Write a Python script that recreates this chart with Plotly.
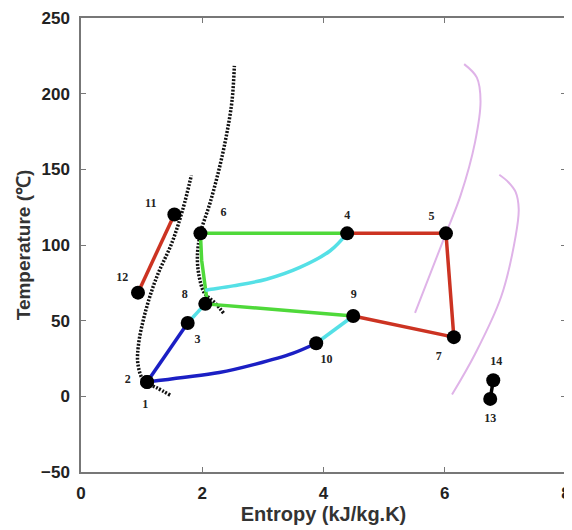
import plotly.graph_objects as go

# state points (entropy kJ/kg.K, temperature °C)
pt_labels = ["1", "2", "3", "4", "5", "6", "7", "8", "9", "10", "11", "12", "13", "14"]
pt_s = [1.09, 1.09, 1.76, 4.39, 6.02, 1.97, 6.15, 2.05, 4.49, 3.88, 1.54, 0.94, 6.75, 6.80]
pt_t = [9.5, 9.5, 48.5, 107.7, 107.7, 107.7, 39.1, 61.1, 53.1, 35.1, 120.2, 68.5, -1.7, 10.6]

# label anchor positions
lab_s = [1.06, 0.77, 1.92, 4.39, 5.78, 2.35, 5.90, 1.71, 4.50, 4.05, 1.15, 0.68, 6.75, 6.85]
lab_t = [-5.5, 11.0, 36.9, 119.0, 118.6, 121.0, 26.2, 67.0, 67.0, 24.0, 127.0, 78.0, -15.0, 22.8]

# saturation curves (dotted black)
satA_s = [1.47, 1.25, 1.04, 0.94, 0.95, 1.07, 1.25, 1.50, 1.68, 1.82]
satA_t = [0.8, 5.7, 10.0, 21.0, 34.6, 57.0, 79.0, 101.5, 123.7, 146.0]
satB_s = [2.35, 2.22, 2.04, 1.95, 1.92, 1.97, 2.13, 2.28, 2.40, 2.49, 2.53]
satB_t = [55.0, 61.4, 68.0, 79.0, 92.5, 107.7, 128.0, 150.5, 172.7, 195.0, 218.4]

# pink curves
p1_s = [5.51, 6.02, 6.26, 6.50, 6.59, 6.53, 6.32]
p1_t = [55.1, 107.7, 132.6, 168.0, 195.0, 210.6, 219.5]
p2_s = [6.12, 6.50, 6.93, 7.17, 7.22, 7.17, 7.05, 6.90]
p2_t = [1.2, 28.0, 65.8, 106.0, 123.7, 134.9, 141.5, 146.4]

# process lines
green_s = [[1.97, 4.39], [1.97, 1.99, 2.07, 2.05], [2.05, 4.49]]
green_t = [[107.7, 107.7], [107.7, 90.0, 66.0, 61.1], [61.1, 53.1]]
cyan_s = [[4.39, 4.11, 3.61, 3.06, 2.51, 2.10, 2.05], [1.76, 2.05], [3.88, 4.49]]
cyan_t = [[107.7, 96.2, 85.2, 77.4, 73.0, 70.4, 70.0], [48.5, 61.1], [35.1, 53.1]]
blue_s = [[1.09, 1.76], [1.09, 1.68, 2.28, 2.88, 3.49, 3.88]]
blue_t = [[9.5, 48.5], [9.5, 12.4, 15.7, 21.3, 28.4, 35.1]]
red_s = [[4.39, 6.02, 6.15, 4.49], [1.54, 0.94]]
red_t = [[107.7, 107.7, 39.1, 53.1], [120.2, 68.5]]
black_s = [[6.75, 6.80]]
black_t = [[-1.7, 10.6]]

x_range = [0, 8]
y_range = [-50, 250]

fig = go.Figure()

for s, t in [(satA_s, satA_t), (satB_s, satB_t)]:
    fig.add_trace(go.Scatter(x=s, y=t, mode="lines", line=dict(color="#111", width=3.5, dash="2px,1.5px", shape="spline")))
for s, t in [(p1_s, p1_t), (p2_s, p2_t)]:
    fig.add_trace(go.Scatter(x=s, y=t, mode="lines", line=dict(color="#dfb3e8", width=2, shape="spline")))

def add_group(ss, tt, color, shape="linear"):
    for s, t in zip(ss, tt):
        fig.add_trace(go.Scatter(x=s, y=t, mode="lines", line=dict(color=color, width=3.5, shape=shape)))

add_group(green_s, green_t, "#4fd93a")
add_group(cyan_s, cyan_t, "#55e0e6", "spline")
add_group(blue_s, blue_t, "#1b1fc4", "spline")
add_group(red_s, red_t, "#cc3322")
add_group(black_s, black_t, "#000000")

fig.add_trace(go.Scatter(x=pt_s, y=pt_t, mode="markers", marker=dict(color="black", size=14)))
fig.add_trace(go.Scatter(x=lab_s, y=lab_t, mode="text", text=pt_labels,
                         textfont=dict(family="Liberation Serif", size=12, color="#222", weight="bold")))

# empty trace to activate the overlay axes carrying the inside ticks
fig.add_trace(go.Scatter(x=[None], y=[None], xaxis="x2", yaxis="y2", mode="lines", hoverinfo="skip"))

label_axis = dict(showline=True, linecolor="#777", linewidth=1.5, mirror=True, ticks="outside",
                  tickcolor="rgba(0,0,0,0)", showgrid=False, zeroline=False, automargin=False,
                  tickfont=dict(family="Liberation Sans", size=17, color="#222", weight="bold"))
tick_axis = dict(showline=False, ticks="inside", ticklen=5, tickcolor="#777", tickwidth=1.2,
                 mirror="ticks", showticklabels=False, showgrid=False, zeroline=False, automargin=False)

fig.update_layout(
    width=564, height=522, showlegend=False,
    plot_bgcolor="white", paper_bgcolor="white",
    margin=dict(l=73, r=6, t=10, b=58),
    xaxis=dict(range=x_range, dtick=2, ticklen=5,
               title=dict(text="Entropy (kJ/kg.K)", standoff=5,
               font=dict(family="Liberation Sans", size=20, color="#333", weight="bold")), **label_axis),
    yaxis=dict(range=y_range, dtick=50, ticklen=6,
               title=dict(text="Temperature (℃)", standoff=5,
               font=dict(family="Liberation Sans", size=19, color="#333", weight="bold")), **label_axis),
    xaxis2=dict(range=x_range, dtick=2, overlaying="x", anchor="y2", **tick_axis),
    yaxis2=dict(range=y_range, dtick=50, overlaying="y", anchor="x2", **tick_axis),
)

fig.write_html("out.html")
